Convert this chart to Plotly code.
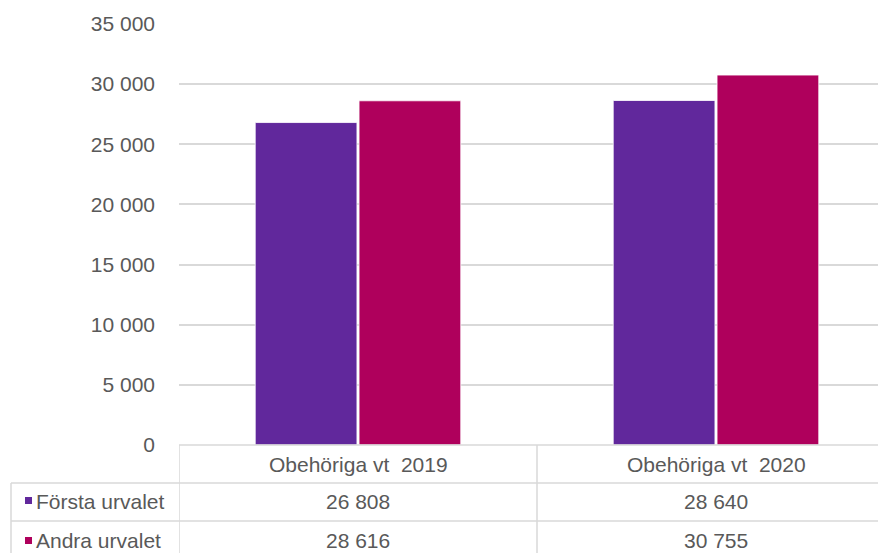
import plotly.graph_objects as go

categories = ["Obehöriga vt 2019", "Obehöriga vt 2020"]
series_names = ["Första urvalet", "Andra urvalet"]
forsta = [26808, 28640]
andra = [28616, 30755]
colors = ["#61289C", "#AF005C"]
y_ticks = [0, 5000, 10000, 15000, 20000, 25000, 30000, 35000]

# page body has an 8px margin; work in screen pixels and offset
OFF = 8
W, H = 886 - OFF, 553 - OFF
L, R, T = 179 - OFF, 0, 24 - OFF
ZERO = 445 - OFF
B = H - ZERO
PW, PH = W - L - R, H - T - B

FONT = "Liberation Sans, Arial, sans-serif"
FS = 21
TXT = "#595959"
LINE = "#D9D9D9"


def py(p):  # screen pixel y -> paper y
    return (445 - p) / PH


def px(p):  # screen pixel x -> paper x
    return (p - 179) / PW


def fmt(v):
    return f"{v:,}".replace(",", " ")


fig = go.Figure()
for name, vals, col in zip(series_names, [forsta, andra], colors):
    fig.add_trace(go.Bar(x=categories, y=vals, name=name,
                         marker=dict(color=col, line=dict(color="white", width=0.8))))

xr_hi = -0.5 + PW / 358.0

shapes = []
shapes.append(dict(type="line", xref="paper", yref="paper", x0=0, x1=1, y0=0, y1=0,
                   line=dict(color=LINE, width=1.5)))
for yp in [483, 521]:
    shapes.append(dict(type="line", xref="paper", yref="paper", x0=px(11), x1=1,
                       y0=py(yp), y1=py(yp), line=dict(color=LINE, width=1.5)))
for xv in [-0.5, 0.5]:
    shapes.append(dict(type="line", xref="x", yref="paper", x0=xv, x1=xv,
                       y0=0, y1=py(570), line=dict(color=LINE, width=1.5)))
shapes.append(dict(type="line", xref="paper", yref="paper", x0=px(11), x1=px(11),
                   y0=py(483), y1=py(570), line=dict(color=LINE, width=1.5)))
# legend keys
for yc, col in zip([500.5, 540.5], colors):
    shapes.append(dict(type="rect", xref="paper", yref="paper",
                       x0=px(25), x1=px(32), y0=py(yc + 3.5), y1=py(yc - 3.5),
                       fillcolor=col, line=dict(width=0)))

annotations = []
for c in categories:
    annotations.append(dict(x=c, xref="x", yref="paper", y=py(464.5), text=c.replace("vt ", "vt  "),
                            xanchor="center", yanchor="middle", showarrow=False,
                            font=dict(size=FS, color=TXT, family=FONT)))
for row_y, name, vals in zip([501.5, 540.5], series_names, [forsta, andra]):
    annotations.append(dict(x=px(34), xref="paper", yref="paper", y=py(row_y), text=name,
                            xanchor="left", yanchor="middle", showarrow=False,
                            font=dict(size=FS, color=TXT, family=FONT)))
    for c, v in zip(categories, vals):
        annotations.append(dict(x=c, xref="x", yref="paper", y=py(row_y), text=fmt(v),
                                xanchor="center", yanchor="middle", showarrow=False,
                                font=dict(size=FS, color=TXT, family=FONT)))

fig.update_layout(
    width=W, height=H,
    margin=dict(l=L, r=R, t=T, b=B, pad=0),
    plot_bgcolor="white", paper_bgcolor="white",
    barmode="group", bargap=0.42, bargroupgap=0.02,
    showlegend=False,
    shapes=shapes, annotations=annotations,
    xaxis=dict(range=[-0.5, xr_hi], showticklabels=False, showgrid=False, zeroline=False,
               showline=False, ticks=""),
    yaxis=dict(range=[0, 35000], tickvals=y_ticks, ticktext=[fmt(v) for v in y_ticks],
               showgrid=True, gridcolor=LINE, gridwidth=1.5, zeroline=False, showline=False,
               ticks="", ticklabelstandoff=23,
               tickfont=dict(size=FS, color=TXT, family=FONT)),
)

fig.write_html("out.html")
